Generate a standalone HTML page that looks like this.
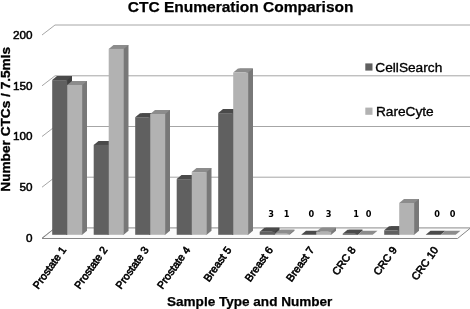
<!DOCTYPE html><html><head><meta charset="utf-8"><style>html,body{margin:0;padding:0;background:#fff}svg{display:block;will-change:transform;filter:grayscale(1)}text{font-family:"Liberation Sans",Arial,sans-serif;fill:#000}</style></head><body>
<svg width="470" height="309" viewBox="0 0 470 309">
<rect width="470" height="309" fill="#fff"/>
<path d="M42.0,238.0 L55.0,228.0 L470,228.0" fill="none" stroke="#a6a6a6" stroke-width="1"/>
<text x="32.5" y="241.8" font-size="11.7" text-anchor="end" stroke="#000" stroke-width="0.5">0</text>
<path d="M42.0,187.2 L55.0,177.2 L470,177.2" fill="none" stroke="#a6a6a6" stroke-width="1"/>
<text x="32.5" y="191.1" font-size="11.7" text-anchor="end" stroke="#000" stroke-width="0.5">50</text>
<path d="M42.0,136.5 L55.0,126.5 L470,126.5" fill="none" stroke="#a6a6a6" stroke-width="1"/>
<text x="32.5" y="140.3" font-size="11.7" text-anchor="end" stroke="#000" stroke-width="0.5">100</text>
<path d="M42.0,85.8 L55.0,75.8 L470,75.8" fill="none" stroke="#a6a6a6" stroke-width="1"/>
<text x="32.5" y="89.6" font-size="11.7" text-anchor="end" stroke="#000" stroke-width="0.5">150</text>
<path d="M42.0,35.0 L55.0,25.0 L470,25.0" fill="none" stroke="#a6a6a6" stroke-width="1"/>
<text x="32.5" y="38.8" font-size="11.7" text-anchor="end" stroke="#000" stroke-width="0.5">200</text>
<path d="M42.0,238.5 L55.0,228.0 L470,228.0 L457.5,238.5 Z" fill="#fbfbfb" stroke="none"/>
<path d="M55.0,228.0 L470,228.0" fill="none" stroke="#a0a0a0" stroke-width="1"/>
<path d="M55.0,228.0 L42.0,238.5 L457.5,238.5 L470.5,228.0" fill="none" stroke="#868686" stroke-width="1" stroke-linejoin="miter"/>
<path d="M66.2,234.8 L67.2,234.8 L72.0,230.8 L72.0,76.1 L58.0,76.1 L66.2,80.6 Z" fill="#404040"/><path d="M52.2,80.1 L67.2,80.1 L72.0,76.1 L57.0,76.1 Z" fill="#4a4a4a"/><rect x="52.2" y="80.1" width="15.0" height="154.7" fill="#606060"/>
<path d="M81.2,234.8 L82.2,234.8 L87.0,230.8 L87.0,81.0 L73.0,81.0 L81.2,85.5 Z" fill="#787878"/><path d="M67.2,85.0 L82.2,85.0 L87.0,81.0 L72.0,81.0 Z" fill="#8c8c8c"/><rect x="67.2" y="85.0" width="15.0" height="149.8" fill="#b2b2b2"/>
<path d="M107.7,234.8 L108.7,234.8 L113.5,230.8 L113.5,140.9 L99.5,140.9 L107.7,145.4 Z" fill="#404040"/><path d="M93.7,144.9 L108.7,144.9 L113.5,140.9 L98.5,140.9 Z" fill="#4a4a4a"/><rect x="93.7" y="144.9" width="15.0" height="89.9" fill="#606060"/>
<path d="M122.7,234.8 L123.7,234.8 L128.5,230.8 L128.5,44.9 L114.5,44.9 L122.7,49.4 Z" fill="#787878"/><path d="M108.7,48.9 L123.7,48.9 L128.5,44.9 L113.5,44.9 Z" fill="#8c8c8c"/><rect x="108.7" y="48.9" width="15.0" height="185.9" fill="#b2b2b2"/>
<path d="M149.2,234.8 L150.2,234.8 L155.0,230.8 L155.0,113.2 L141.0,113.2 L149.2,117.7 Z" fill="#404040"/><path d="M135.2,117.2 L150.2,117.2 L155.0,113.2 L140.0,113.2 Z" fill="#4a4a4a"/><rect x="135.2" y="117.2" width="15.0" height="117.6" fill="#606060"/>
<path d="M164.2,234.8 L165.2,234.8 L170.0,230.8 L170.0,110.0 L156.0,110.0 L164.2,114.5 Z" fill="#787878"/><path d="M150.2,114.0 L165.2,114.0 L170.0,110.0 L155.0,110.0 Z" fill="#8c8c8c"/><rect x="150.2" y="114.0" width="15.0" height="120.8" fill="#b2b2b2"/>
<path d="M190.7,234.8 L191.7,234.8 L196.5,230.8 L196.5,175.1 L182.5,175.1 L190.7,179.6 Z" fill="#404040"/><path d="M176.7,179.1 L191.7,179.1 L196.5,175.1 L181.5,175.1 Z" fill="#4a4a4a"/><rect x="176.7" y="179.1" width="15.0" height="55.7" fill="#606060"/>
<path d="M205.7,234.8 L206.7,234.8 L211.5,230.8 L211.5,168.1 L197.5,168.1 L205.7,172.6 Z" fill="#787878"/><path d="M191.7,172.1 L206.7,172.1 L211.5,168.1 L196.5,168.1 Z" fill="#8c8c8c"/><rect x="191.7" y="172.1" width="15.0" height="62.7" fill="#b2b2b2"/>
<path d="M232.2,234.8 L233.2,234.8 L238.0,230.8 L238.0,109.1 L224.0,109.1 L232.2,113.6 Z" fill="#404040"/><path d="M218.2,113.1 L233.2,113.1 L238.0,109.1 L223.0,109.1 Z" fill="#4a4a4a"/><rect x="218.2" y="113.1" width="15.0" height="121.7" fill="#606060"/>
<path d="M247.2,234.8 L248.2,234.8 L253.0,230.8 L253.0,68.6 L239.0,68.6 L247.2,73.1 Z" fill="#787878"/><path d="M233.2,72.6 L248.2,72.6 L253.0,68.6 L238.0,68.6 Z" fill="#8c8c8c"/><rect x="233.2" y="72.6" width="15.0" height="162.2" fill="#b2b2b2"/>
<path d="M273.7,234.8 L274.7,234.8 L279.5,230.8 L279.5,227.8 L265.5,227.8 L273.7,232.3 Z" fill="#404040"/><path d="M259.7,231.8 L274.7,231.8 L279.5,227.8 L264.5,227.8 Z" fill="#4a4a4a"/><rect x="259.7" y="231.8" width="15.0" height="3.0" fill="#606060"/>
<path d="M288.7,234.8 L289.7,234.8 L294.5,230.8 L294.5,229.8 L280.5,229.8 L288.7,234.3 Z" fill="#787878"/><path d="M274.7,233.8 L289.7,233.8 L294.5,229.8 L279.5,229.8 Z" fill="#8c8c8c"/><rect x="274.7" y="233.8" width="15.0" height="1.0" fill="#b2b2b2"/>
<path d="M301.2,234.8 L316.2,234.8 L321.0,230.8 L306.0,230.8 Z" fill="#4a4a4a"/>
<path d="M330.2,234.8 L331.2,234.8 L336.0,230.8 L336.0,227.8 L322.0,227.8 L330.2,232.3 Z" fill="#787878"/><path d="M316.2,231.8 L331.2,231.8 L336.0,227.8 L321.0,227.8 Z" fill="#8c8c8c"/><rect x="316.2" y="231.8" width="15.0" height="3.0" fill="#b2b2b2"/>
<path d="M356.7,234.8 L357.7,234.8 L362.5,230.8 L362.5,229.8 L348.5,229.8 L356.7,234.3 Z" fill="#404040"/><path d="M342.7,233.8 L357.7,233.8 L362.5,229.8 L347.5,229.8 Z" fill="#4a4a4a"/><rect x="342.7" y="233.8" width="15.0" height="1.0" fill="#606060"/>
<path d="M357.7,234.8 L372.7,234.8 L377.5,230.8 L362.5,230.8 Z" fill="#8c8c8c"/>
<path d="M398.2,234.8 L399.2,234.8 L404.0,230.8 L404.0,226.3 L390.0,226.3 L398.2,230.8 Z" fill="#404040"/><path d="M384.2,230.3 L399.2,230.3 L404.0,226.3 L389.0,226.3 Z" fill="#4a4a4a"/><rect x="384.2" y="230.3" width="15.0" height="4.5" fill="#606060"/>
<path d="M413.2,234.8 L414.2,234.8 L419.0,230.8 L419.0,199.0 L405.0,199.0 L413.2,203.5 Z" fill="#787878"/><path d="M399.2,203.0 L414.2,203.0 L419.0,199.0 L404.0,199.0 Z" fill="#8c8c8c"/><rect x="399.2" y="203.0" width="15.0" height="31.8" fill="#b2b2b2"/>
<path d="M425.7,234.8 L440.7,234.8 L445.5,230.8 L430.5,230.8 Z" fill="#4a4a4a"/>
<path d="M440.7,234.8 L455.7,234.8 L460.5,230.8 L445.5,230.8 Z" fill="#8c8c8c"/>
<text x="271.0" y="217.1" font-size="9.1" font-weight="bold" text-anchor="middle" style="font-family:'DejaVu Sans Condensed','DejaVu Sans',sans-serif">3</text>
<text x="286.6" y="217.1" font-size="9.1" font-weight="bold" text-anchor="middle" style="font-family:'DejaVu Sans Condensed','DejaVu Sans',sans-serif">1</text>
<text x="311.3" y="217.1" font-size="9.1" font-weight="bold" text-anchor="middle" style="font-family:'DejaVu Sans Condensed','DejaVu Sans',sans-serif">0</text>
<text x="328.7" y="217.1" font-size="9.1" font-weight="bold" text-anchor="middle" style="font-family:'DejaVu Sans Condensed','DejaVu Sans',sans-serif">3</text>
<text x="356.0" y="217.1" font-size="9.1" font-weight="bold" text-anchor="middle" style="font-family:'DejaVu Sans Condensed','DejaVu Sans',sans-serif">1</text>
<text x="368.7" y="217.1" font-size="9.1" font-weight="bold" text-anchor="middle" style="font-family:'DejaVu Sans Condensed','DejaVu Sans',sans-serif">0</text>
<text x="437.2" y="217.1" font-size="9.1" font-weight="bold" text-anchor="middle" style="font-family:'DejaVu Sans Condensed','DejaVu Sans',sans-serif">0</text>
<text x="452.5" y="217.1" font-size="9.1" font-weight="bold" text-anchor="middle" style="font-family:'DejaVu Sans Condensed','DejaVu Sans',sans-serif">0</text>
<text transform="translate(66.6,250.0) rotate(-54.5)" font-size="10.7" text-anchor="end" stroke="#000" stroke-width="0.6">Prostate 1</text>
<text transform="translate(108.0,250.0) rotate(-54.5)" font-size="10.7" text-anchor="end" stroke="#000" stroke-width="0.6">Prostate 2</text>
<text transform="translate(149.3,250.0) rotate(-54.5)" font-size="10.7" text-anchor="end" stroke="#000" stroke-width="0.6">Prostate 3</text>
<text transform="translate(190.7,250.0) rotate(-54.5)" font-size="10.7" text-anchor="end" stroke="#000" stroke-width="0.6">Prostate 4</text>
<text transform="translate(232.0,250.0) rotate(-54.5)" font-size="10.7" text-anchor="end" stroke="#000" stroke-width="0.6">Breast 5</text>
<text transform="translate(273.4,250.0) rotate(-54.5)" font-size="10.7" text-anchor="end" stroke="#000" stroke-width="0.6">Breast 6</text>
<text transform="translate(314.7,250.0) rotate(-54.5)" font-size="10.7" text-anchor="end" stroke="#000" stroke-width="0.6">Breast 7</text>
<text transform="translate(356.1,250.0) rotate(-54.5)" font-size="10.7" text-anchor="end" stroke="#000" stroke-width="0.6">CRC 8</text>
<text transform="translate(397.5,250.0) rotate(-54.5)" font-size="10.7" text-anchor="end" stroke="#000" stroke-width="0.6">CRC 9</text>
<text transform="translate(438.8,250.0) rotate(-54.5)" font-size="10.7" text-anchor="end" stroke="#000" stroke-width="0.6">CRC 10</text>
<text x="240.65" y="11.5" font-size="15.5" font-weight="bold" text-anchor="middle" stroke="#000" stroke-width="0.25">CTC Enumeration Comparison</text>
<text x="249.7" y="306.3" font-size="13.55" font-weight="bold" text-anchor="middle" stroke="#000" stroke-width="0.25">Sample Type and Number</text>
<text transform="translate(9.8,119.3) rotate(-90)" font-size="13.65" font-weight="bold" text-anchor="middle" stroke="#000" stroke-width="0.35">Number CTCs / 7.5mls</text>
<rect x="365.3" y="63.4" width="7.2" height="7.2" fill="#606060"/><text x="375.3" y="71.8" font-size="13.7" stroke="#000" stroke-width="0.35">CellSearch</text>
<rect x="365.3" y="107.6" width="7.2" height="7.2" fill="#b2b2b2"/><text x="375.9" y="116" font-size="13.7" stroke="#000" stroke-width="0.35">RareCyte</text>
</svg></body></html>
